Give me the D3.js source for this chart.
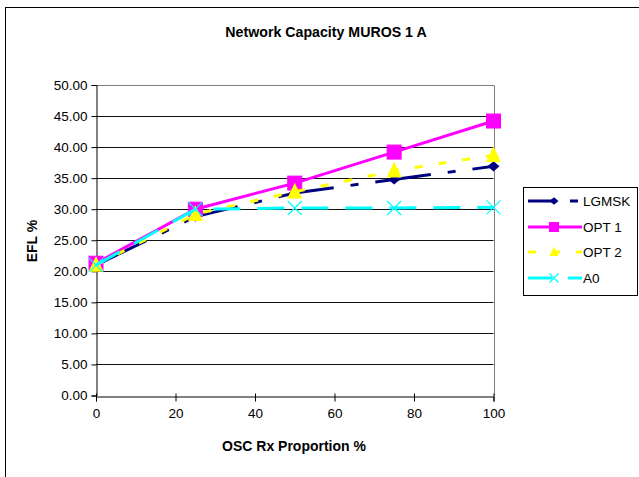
<!DOCTYPE html>
<html><head><meta charset="utf-8">
<script src="https://cdn.jsdelivr.net/npm/d3@7"></script>
<style>body{margin:0;background:#fff}svg{display:block;font-family:"Liberation Sans",Arial,sans-serif}</style>
</head><body><svg id="c" width="639" height="477"></svg>
<script>
const xValues = [0, 25, 50, 75, 100];
const seriesNames = ["LGMSK", "OPT 1", "OPT 2", "A0"];
const lgmsk = [21.0, 28.8, 32.6, 34.8, 36.9];
const opt1  = [21.3, 30.0, 34.2, 39.2, 44.2];
const opt2  = [21.0, 29.2, 32.8, 36.2, 38.7];
const a0    = [21.0, 30.0, 30.2, 30.2, 30.3];
const yTicks = [0, 5, 10, 15, 20, 25, 30, 35, 40, 45, 50];
const xTicks = [0, 20, 40, 60, 80, 100];

const svg = d3.select("#c");
const x = d3.scaleLinear().domain([0, 100]).range([96, 493.5]);
const y = d3.scaleLinear().domain([0, 50]).range([395.5, 85]);

// chart frame
svg.append("rect").attr("x", 5.5).attr("y", 7.5).attr("width", 800).attr("height", 600)
  .attr("fill", "none").attr("stroke", "#000");

// title
svg.append("text").attr("x", 326).attr("y", 37).attr("text-anchor", "middle")
  .attr("font-weight", "bold").attr("font-size", 14.2).text("Network Capacity MUROS 1 A");

// gridlines
svg.append("g").selectAll("line").data(yTicks.filter(d => d > 0 && d < 50)).join("line")
  .attr("x1", x(0)).attr("x2", x(100)).attr("y1", d => Math.round(y(d)) + 0.5).attr("y2", d => Math.round(y(d)) + 0.5)
  .attr("stroke", "#111").attr("stroke-width", 1);

// plot border top/right gray
svg.append("path").attr("d", `M${x(0)},${Math.round(y(50)) + 0.5}H${Math.round(x(100)) + 0.5}V${y(0)}`)
  .attr("fill", "none").attr("stroke", "#808080");

// axes
const yAxis = d3.axisLeft(y).tickValues(yTicks).tickFormat(d3.format(".2f")).tickSize(5).tickPadding(4);
const gy = svg.append("g").attr("transform", `translate(${Math.round(x(0)) + 0.5},0)`).call(yAxis);
gy.selectAll("text").attr("font-size", 13.5).attr("fill", "#000").attr("font-family", "Liberation Sans, Arial, sans-serif");
gy.select(".domain").attr("stroke", "#000");

const xAxis = d3.axisBottom(x).tickValues(xTicks).tickSize(5).tickPadding(7);
const gx = svg.append("g").attr("transform", `translate(0,${Math.round(y(0)) + 0.5})`).call(xAxis);
gx.selectAll("text").attr("font-size", 13.5).attr("fill", "#000").attr("font-family", "Liberation Sans, Arial, sans-serif");
gx.select(".domain").attr("stroke", "#000");
gx.selectAll(".tick line").attr("y1", -3);

// axis titles
svg.append("text").attr("x", 294).attr("y", 451).attr("text-anchor", "middle")
  .attr("font-weight", "bold").attr("font-size", 14).text("OSC Rx Proportion %");
svg.append("text").attr("transform", "translate(37,241) rotate(-90)").attr("text-anchor", "middle")
  .attr("font-weight", "bold").attr("font-size", 14).text("EFL %");

const series = [
  {name: seriesNames[0], values: lgmsk, color: "#000080", dash: "56,17,8,17", marker: "diamond"},
  {name: seriesNames[1], values: opt1, color: "#FF00FF", dash: null, marker: "square"},
  {name: seriesNames[2], values: opt2, color: "#FFFF00", dash: "8,16", marker: "triangle"},
  {name: seriesNames[3], values: a0, color: "#00FFFF", dash: "27,17", marker: "x"}
];

function drawMarker(g, type, cx, cy, s, color) {
  if (type === "square") {
    g.append("rect").attr("x", cx - s / 2).attr("y", cy - s / 2).attr("width", s).attr("height", s)
      .attr("fill", color).attr("stroke", color);
  } else if (type === "triangle") {
    g.append("path").attr("d", `M${cx},${cy - s * 0.6}L${cx + s / 2},${cy + s * 0.45}L${cx - s / 2},${cy + s * 0.45}Z`)
      .attr("fill", color);
  } else if (type === "diamond") {
    g.append("path").attr("d", `M${cx},${cy - s * 0.42}L${cx + s / 2},${cy}L${cx},${cy + s * 0.42}L${cx - s / 2},${cy}Z`)
      .attr("fill", color);
  } else if (type === "x") {
    const h = s / 2;
    g.append("path").attr("d", `M${cx - h},${cy - h}L${cx + h},${cy + h}M${cx - h},${cy + h}L${cx + h},${cy - h}`)
      .attr("stroke", color).attr("stroke-width", 1.2).attr("fill", "none");
  }
}

const line = d3.line().x(d => x(d[0])).y(d => y(d[1]));
const msize = {square: 14, triangle: 15, diamond: 12, x: 14};
series.forEach(s => {
  const g = svg.append("g");
  const pts = xValues.map((v, i) => [v, s.values[i]]);
  g.append("path").attr("d", line(pts)).attr("fill", "none").attr("stroke", s.color)
    .attr("stroke-width", 3).attr("stroke-dasharray", s.dash);
  pts.forEach(p => drawMarker(g, s.marker, x(p[0]), y(p[1]), msize[s.marker], s.color));
});

// legend
const lg = svg.append("g");
lg.append("rect").attr("x", 523.5).attr("y", 187.5).attr("width", 114).attr("height", 108)
  .attr("fill", "#fff").attr("stroke", "#000");
const rowY = [201, 227, 252, 278];
const lmsize = {square: 9, triangle: 9, diamond: 9, x: 9};
series.forEach((s, i) => {
  const yy = rowY[i];
  lg.append("line").attr("x1", 528).attr("x2", 582).attr("y1", yy).attr("y2", yy)
    .attr("stroke", s.color).attr("stroke-width", 3)
    .attr("stroke-dasharray", s.dash ? (s.marker === "diamond" ? "27,15,8,20" : s.marker === "triangle" ? "8,16" : "24,16,14") : null);
  drawMarker(lg, s.marker, 554, yy, lmsize[s.marker], s.color);
  lg.append("text").attr("x", 583).attr("y", yy + 5).attr("font-size", 13.5).text(s.name);
});
</script></body></html>
